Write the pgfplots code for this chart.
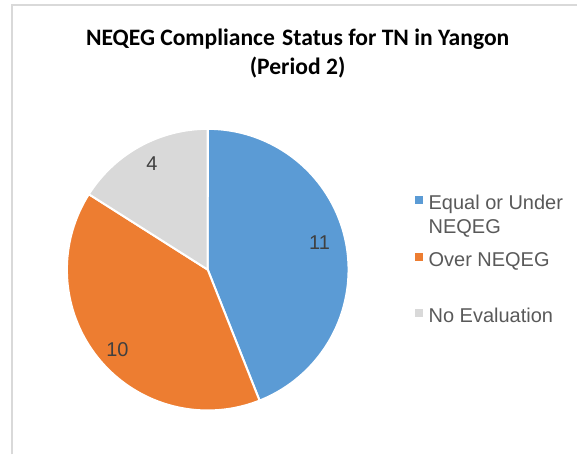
\documentclass[border=0pt]{standalone}
\usepackage{pgfplots}
\pgfplotsset{compat=1.18}
\usepackage{pgfplotstable}
\usepackage{fontspec}
\setmainfont{Liberation Sans}
\newfontfamily\titlefont{Carlito}
\definecolor{pieblue}{HTML}{5B9BD5}
\definecolor{pieorange}{HTML}{ED7D31}
\definecolor{piegray}{HTML}{D9D9D9}
\definecolor{txtgray}{HTML}{595959}
\definecolor{lblgray}{HTML}{404040}
\definecolor{framegray}{HTML}{D9D9D9}

\pgfplotstableread{
label value
Equal 11
Over 10
NoEval 4
}\piedata

\pgfplotstablegetelem{0}{value}\of\piedata \let\vA\pgfplotsretval
\pgfplotstablegetelem{1}{value}\of\piedata \let\vB\pgfplotsretval
\pgfplotstablegetelem{2}{value}\of\piedata \let\vC\pgfplotsretval
\pgfmathsetmacro{\tot}{\vA+\vB+\vC}
\pgfmathsetmacro{\aZ}{90}
\pgfmathsetmacro{\aA}{90-360*\vA/\tot}
\pgfmathsetmacro{\aB}{\aA-360*\vB/\tot}
\pgfmathsetmacro{\aC}{\aB-360*\vC/\tot}
\pgfmathsetmacro{\mA}{(\aZ+\aA)/2}
\pgfmathsetmacro{\mB}{(\aA+\aB)/2}
\pgfmathsetmacro{\mC}{(\aB+\aC)/2}
\def\cx{208}\def\cy{185}\def\R{141}\def\rl{116}

\begin{document}
\begin{tikzpicture}
\begin{axis}[
  scale only axis, width=578pt, height=455pt,
  xmin=0, xmax=578, ymin=0, ymax=455,
  hide axis, clip=false,
  legend style={draw=none, fill=none, at={(axis cs:412,262)}, anchor=north west,
    font=\fontsize{20}{24}\selectfont\color{txtgray},
    nodes={text height=15pt, text depth=0pt, inner sep=0pt},
    row sep=41.5pt, column sep=6pt},
  legend cell align=left,
]
\path (axis cs:0,0) rectangle (axis cs:578,455);
\draw[framegray, line width=1.5pt] (axis cs:12,0) -- (axis cs:12,450) -- (axis cs:578,450);

\addplot[fill=pieblue, draw=white, line width=2pt, domain=\aA:\aZ, samples=90, variable=\t,
  legend image code/.code={\fill[pieblue] (0pt,-1pt) rectangle (6pt,5pt);}]
  ({\cx+\R*cos(\t)}, {\cy+\R*sin(\t)}) -- (axis cs:\cx,\cy) -- cycle;
\addlegendentry{\smash{\begin{tabular}[t]{@{}l@{}}Equal or Under\\NEQEG\end{tabular}}}
\addplot[fill=pieorange, draw=white, line width=2pt, domain=\aB:\aA, samples=90, variable=\t,
  legend image code/.code={\fill[pieorange] (0pt,-1pt) rectangle (6pt,5pt);}]
  ({\cx+\R*cos(\t)}, {\cy+\R*sin(\t)}) -- (axis cs:\cx,\cy) -- cycle;
\addlegendentry{Over NEQEG}
\addplot[fill=piegray, draw=white, line width=2pt, domain=\aC:\aB, samples=60, variable=\t,
  legend image code/.code={\fill[piegray] (0pt,-1pt) rectangle (6pt,5pt);}]
  ({\cx+\R*cos(\t)}, {\cy+\R*sin(\t)}) -- (axis cs:\cx,\cy) -- cycle;
\addlegendentry{No Evaluation}

\node[lblgray, font=\fontsize{20}{24}\selectfont] at (axis cs:{\cx+\rl*cos(\mA)-2},{\cy+\rl*sin(\mA)+5}) {\vA};
\node[lblgray, font=\fontsize{20}{24}\selectfont] at (axis cs:{\cx+\rl*cos(\mB)-1},{\cy+\rl*sin(\mB)-6}) {\vB};
\node[lblgray, font=\fontsize{20}{24}\selectfont] at (axis cs:{\cx+\rl*cos(\mC)},{\cy+\rl*sin(\mC)+5}) {\vC};

\node[anchor=base, font=\titlefont\bfseries\fontsize{23.6}{27}\selectfont] at (axis cs:298,409) {NEQEG Compliance\kern2pt\ Status for TN in Yangon};
\node[anchor=base, font=\titlefont\bfseries\fontsize{23.6}{27}\selectfont] at (axis cs:298,380) {(Period 2)};
\end{axis}
\end{tikzpicture}
\end{document}
